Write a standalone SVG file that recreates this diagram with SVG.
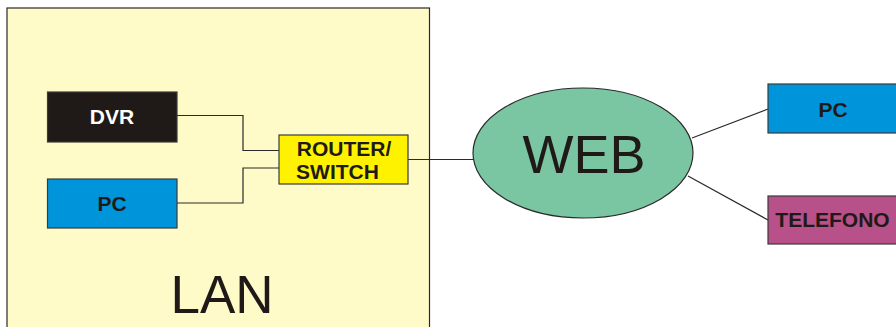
<svg xmlns="http://www.w3.org/2000/svg" width="896" height="327" viewBox="0 0 896 327">
<style>
.box{stroke:#3a3a3a;stroke-width:1.2}
.lbl{font-family:"Liberation Sans",Arial,sans-serif;font-weight:bold;font-size:21px;fill:#1f1a17;text-anchor:middle}
.big{font-family:"Liberation Sans",Arial,sans-serif;font-size:54px;fill:#1f1a17;text-anchor:middle}
.wire{fill:none;stroke:#2a2a2a;stroke-width:1.2}
</style>
<rect width="896" height="327" fill="#ffffff"/>
<g id="lan">
<rect x="7" y="8" width="422.5" height="330" fill="#fffbc9" stroke="#2a2a2a" stroke-width="1.2"/>
<text class="big" x="222" y="312.5" style="font-size:53px">LAN</text>
</g>
<g id="connectors">
<polyline class="wire" points="177,115.5 243,115.5 243,150.5 279,150.5"/>
<polyline class="wire" points="177,203 243,203 243,168 279,168"/>
<line class="wire" x1="408" y1="159.5" x2="473" y2="159.5"/>
<line class="wire" x1="692" y1="138" x2="768" y2="109"/>
<line class="wire" x1="688" y1="176" x2="768" y2="220"/>
</g>
<g id="dvr">
<rect class="box" x="47.5" y="92" width="129.5" height="50" fill="#1f1a17"/>
<text class="lbl" x="112" y="124" style="fill:#ffffff">DVR</text>
</g>
<g id="pc-lan">
<rect class="box" x="47.5" y="179" width="129.5" height="49" fill="#0095da"/>
<text class="lbl" x="112" y="210.5">PC</text>
</g>
<g id="router">
<rect class="box" x="279" y="135" width="129" height="49" fill="#fff200"/>
<text class="lbl" x="344" y="156">ROUTER/</text>
<text class="lbl" x="337.5" y="179">SWITCH</text>
</g>
<g id="web">
<ellipse cx="583" cy="153" rx="110" ry="65" fill="#7ac5a2" stroke="#2a2a2a" stroke-width="1.2"/>
<text class="big" x="584" y="173">WEB</text>
</g>
<g id="pc-web">
<rect class="box" x="768" y="84" width="140" height="49" fill="#0095da"/>
<text class="lbl" x="833" y="116.5">PC</text>
</g>
<g id="telefono">
<rect class="box" x="768" y="196" width="140" height="48" fill="#b8508a"/>
<text class="lbl" x="832.5" y="227">TELEFONO</text>
</g>
</svg>
